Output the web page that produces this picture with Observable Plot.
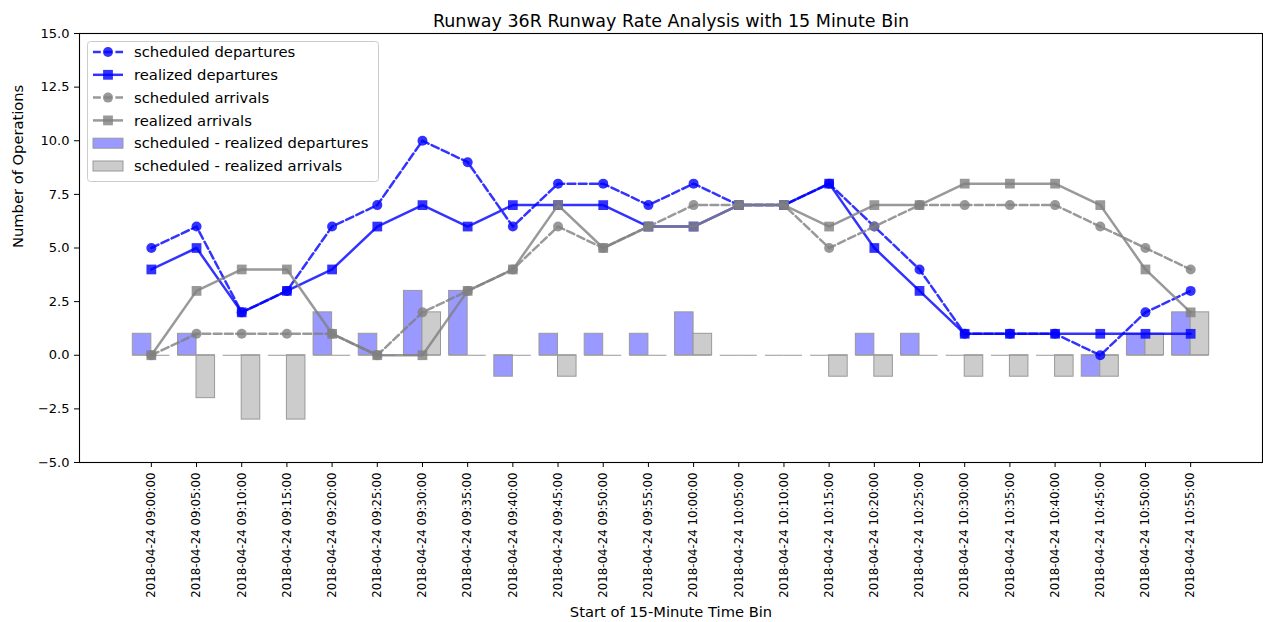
<!DOCTYPE html>
<html><head><meta charset="utf-8">
<script src="https://cdn.jsdelivr.net/npm/d3@7"></script>
<script src="https://cdn.jsdelivr.net/npm/@observablehq/plot@0.6"></script>
<style>
body{margin:0;background:#fff;font-family:"DejaVu Sans",sans-serif;}
#chart{position:relative;width:1263px;height:622px;}
#legend{position:absolute;left:87px;top:41px;}
</style>
</head><body><div id="chart"></div>
<script>
const timeLabels = [
  "2018-04-24 09:00:00","2018-04-24 09:05:00","2018-04-24 09:10:00","2018-04-24 09:15:00",
  "2018-04-24 09:20:00","2018-04-24 09:25:00","2018-04-24 09:30:00","2018-04-24 09:35:00",
  "2018-04-24 09:40:00","2018-04-24 09:45:00","2018-04-24 09:50:00","2018-04-24 09:55:00",
  "2018-04-24 10:00:00","2018-04-24 10:05:00","2018-04-24 10:10:00","2018-04-24 10:15:00",
  "2018-04-24 10:20:00","2018-04-24 10:25:00","2018-04-24 10:30:00","2018-04-24 10:35:00",
  "2018-04-24 10:40:00","2018-04-24 10:45:00","2018-04-24 10:50:00","2018-04-24 10:55:00"
];
const scheduledDepartures = [5,6,2,3,6,7,10,9,6,8,8,7,8,7,7,8,6,4,1,1,1,0,2,3];
const realizedDepartures  = [4,5,2,3,4,6,7,6,7,7,7,6,6,7,7,8,5,3,1,1,1,1,1,1];
const scheduledArrivals   = [0,1,1,1,1,0,2,3,4,6,5,6,7,7,7,5,6,7,7,7,7,6,5,4];
const realizedArrivals    = [0,3,4,4,1,0,0,3,4,7,5,6,6,7,7,6,7,7,8,8,8,7,4,2];
const yTicks = [-5,-2.5,0,2.5,5,7.5,10,12.5,15];
const titleText = "Runway 36R Runway Rate Analysis with 15 Minute Bin";
const xLabel = "Start of 15-Minute Time Bin";
const yLabel = "Number of Operations";
const legendLabels = ["scheduled departures","realized departures","scheduled arrivals","realized arrivals","scheduled - realized departures","scheduled - realized arrivals"];

const rows = timeLabels.map((t, i) => ({
  i, t,
  sd: scheduledDepartures[i], rd: realizedDepartures[i],
  sa: scheduledArrivals[i], ra: realizedArrivals[i],
  dd: scheduledDepartures[i] - realizedDepartures[i],
  da: scheduledArrivals[i] - realizedArrivals[i]
}));

const barW = 0.41;
const blue = "#0000ff", gray = "#808080";
const dash = "7.8,3.4";
const alpha = 0.8;
const edge = "#999999";
const lineW = 2.5;

const plot = Plot.plot({
  width: 1263, height: 622,
  marginLeft: 79, marginRight: 1, marginTop: 33, marginBottom: 160,
  style: {fontFamily: "DejaVu Sans, sans-serif", background: "#fff", color: "#000"},
  x: {domain: [-1.59, 24.59]},
  y: {domain: [-5, 15]},
  marks: [
    Plot.rect(rows, {x1: d => d.i - barW, x2: "i", y1: 0, y2: "dd", fill: "#9999ff", stroke: edge, strokeWidth: 1}),
    Plot.rect(rows, {x1: "i", x2: d => d.i + barW, y1: 0, y2: "da", fill: "#cccccc", stroke: edge, strokeWidth: 1}),
    Plot.ruleY(rows, {x1: d => d.i - barW, x2: "i", y: 0, stroke: edge, strokeWidth: 1}),
    Plot.ruleY(rows, {x1: "i", x2: d => d.i + barW, y: 0, stroke: edge, strokeWidth: 1}),
    Plot.line(rows, {x: "i", y: "sd", stroke: blue, strokeOpacity: alpha, strokeWidth: lineW, strokeDasharray: dash}),
    Plot.dot(rows, {x: "i", y: "sd", r: 5, symbol: "circle", fill: blue, fillOpacity: alpha, stroke: "none"}),
    Plot.line(rows, {x: "i", y: "rd", stroke: blue, strokeOpacity: alpha, strokeWidth: lineW}),
    Plot.dot(rows, {x: "i", y: "rd", r: 5.5, symbol: "square", fill: blue, fillOpacity: alpha, stroke: "none"}),
    Plot.line(rows, {x: "i", y: "sa", stroke: gray, strokeOpacity: alpha, strokeWidth: lineW, strokeDasharray: dash}),
    Plot.dot(rows, {x: "i", y: "sa", r: 5, symbol: "circle", fill: gray, fillOpacity: alpha, stroke: "none"}),
    Plot.line(rows, {x: "i", y: "ra", stroke: gray, strokeOpacity: alpha, strokeWidth: lineW}),
    Plot.dot(rows, {x: "i", y: "ra", r: 5.5, symbol: "square", fill: gray, fillOpacity: alpha, stroke: "none"}),
    Plot.frame({stroke: "#000", strokeWidth: 1.1}),
    Plot.axisY(yTicks, {tickFormat: d3.format(".1f"), tickSize: 5, tickPadding: 5, fontSize: 13, label: null}),
    Plot.axisX(rows.map(d => d.i), {tickFormat: i => timeLabels[i], tickRotate: -90, tickSize: 5, tickPadding: 5, fontSize: 11.8, label: null}),
    Plot.text([titleText], {text: d => d, frameAnchor: "top", dy: -19, fontSize: 17.5}),
    Plot.text([yLabel], {text: d => d, frameAnchor: "left", dx: -61, rotate: -90, fontSize: 14.7}),
    Plot.text([xLabel], {text: d => d, frameAnchor: "bottom", dy: 154, fontSize: 14.7})
  ]
});
const chart = document.getElementById("chart");
chart.appendChild(plot);

// legend overlay
const lw = 291, lh = 140, rowH = 22.8;
const leg = d3.select(chart).append("svg").attr("id", "legend")
  .attr("width", lw + 2).attr("height", lh + 2)
  .style("font-family", "DejaVu Sans, sans-serif");
leg.append("rect").attr("x", 0.5).attr("y", 0.5).attr("width", lw).attr("height", lh)
  .attr("rx", 3).attr("fill", "#fff").attr("fill-opacity", 0.8).attr("stroke", "#cccccc");
const styles = [
  {c: blue, dash: dash, m: "circle"},
  {c: blue, dash: null, m: "square"},
  {c: gray, dash: dash, m: "circle"},
  {c: gray, dash: null, m: "square"},
  {patch: "#9999ff"},
  {patch: "#cccccc"}
];
legendLabels.forEach((lab, k) => {
  const y = 11 + k * rowH;
  const s = styles[k];
  const g = leg.append("g");
  if (s.patch) {
    g.append("rect").attr("x", 6).attr("y", y - 5).attr("width", 30).attr("height", 10)
      .attr("fill", s.patch).attr("stroke", edge);
  } else {
    g.append("line").attr("x1", 6).attr("x2", 36).attr("y1", y).attr("y2", y)
      .attr("stroke", s.c).attr("stroke-opacity", alpha).attr("stroke-width", lineW)
      .attr("stroke-dasharray", s.dash);
    if (s.m === "circle") g.append("circle").attr("cx", 21).attr("cy", y).attr("r", 5).attr("fill", s.c).attr("fill-opacity", alpha);
    else g.append("rect").attr("x", 16.1).attr("y", y - 4.9).attr("width", 9.8).attr("height", 9.8).attr("fill", s.c).attr("fill-opacity", alpha);
  }
  g.append("text").attr("x", 47).attr("y", y).attr("dy", "0.35em").attr("font-size", 14.8).attr("fill", "#000").text(lab);
});
</script>
</body></html>
